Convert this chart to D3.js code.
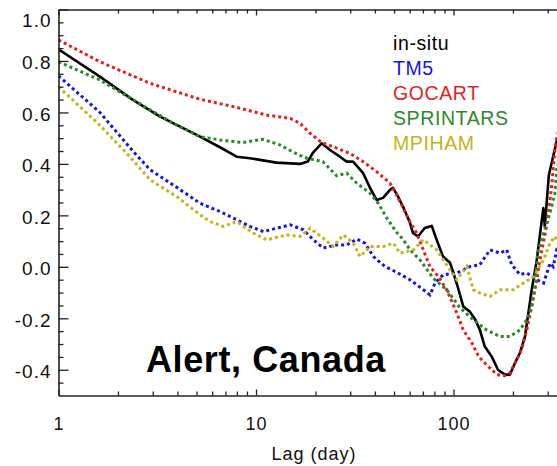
<!DOCTYPE html>
<html><head><meta charset="utf-8">
<script src="https://cdn.jsdelivr.net/npm/d3@7"></script>
<style>
body{margin:0;background:#fff}
svg{display:block}
text{font-family:"Liberation Sans",Arial,Helvetica,sans-serif}
</style>
</head><body>
<svg id="c" width="557" height="466"></svg>
<script>
// ---- data ----
const seriesNames = ["in-situ", "TM5", "GOCART", "SPRINTARS", "MPIHAM"];
const seriesColors = ["#000000", "#1414e6", "#e61e1e", "#2a8a2a", "#c2b520"];

const insituLag = [1,1.62,2.38,3.27,5.21,6.97,7.98,9.32,12.7,16.7,18.3,19.4,21.5,23.7,26.6,28.8,31.0,34.8,37.8,40.8,44.0,47.7,49.4,52.4,55.5,60.2,62.3,66.1,71.5,77.6,82.2,88.5,96,99.4,105,112,121,129,136,144,156,168,182,193,205,217,230,238,249,264,285,290,304,334,365];
const insituVal = [0.845,0.739,0.649,0.584,0.506,0.454,0.428,0.422,0.405,0.400,0.409,0.443,0.480,0.454,0.428,0.409,0.409,0.365,0.307,0.260,0.268,0.299,0.307,0.273,0.234,0.171,0.132,0.118,0.151,0.159,0.105,0.040,0.016,-0.019,-0.077,-0.154,-0.174,-0.206,-0.245,-0.310,-0.348,-0.400,-0.419,-0.419,-0.373,-0.334,-0.271,-0.193,-0.089,0.027,0.228,0.157,0.357,0.493,0.56];

const tm5Lag = [1,1.62,2.38,2.91,3.81,5.21,6.57,7.98,9.32,10.9,12.7,14.9,17.4,19.5,21.9,25.6,28.8,32.4,35.6,39.3,45.0,50.6,60.2,70.3,76.0,81,88.8,104,121,136,153,172,186,197,217,235,264,286,308,320,334,365];
const tm5Val = [0.742,0.600,0.450,0.377,0.318,0.247,0.215,0.183,0.157,0.137,0.150,0.163,0.144,0.105,0.073,0.085,0.085,0.108,0.092,0.040,0.001,-0.018,-0.050,-0.089,-0.109,-0.060,-0.031,-0.024,0.001,0.008,0.066,0.053,0.066,0.008,-0.030,-0.024,-0.050,-0.063,0.014,0.001,0.070,0.10];

const gocartLag = [1,1.62,2.91,5.21,7.65,11.3,14.9,16.7,18.8,21.5,24.5,29.9,34.8,40.8,47.7,51.5,55.5,60.2,65.1,70.3,76.0,83.8,92.4,104,112,124,134,147,166,182,193,209,221,235,249,264,274,296,314,326,334,365];
const gocartVal = [0.882,0.797,0.713,0.651,0.623,0.590,0.577,0.558,0.519,0.483,0.467,0.441,0.409,0.370,0.325,0.280,0.230,0.175,0.131,0.066,0.001,-0.038,-0.089,-0.180,-0.245,-0.296,-0.348,-0.381,-0.419,-0.423,-0.413,-0.361,-0.322,-0.245,-0.154,-0.050,0.027,0.157,0.312,0.454,0.506,0.60];

const sprintarsLag = [1,1.62,2.91,3.80,5.21,6.57,8.60,10.8,13.2,14.9,16.7,18.1,21.8,25.6,28.8,32.4,37.8,41.6,45.9,51.5,55.7,60.2,62.6,67.7,79.1,92.4,108,126,147,172,193,217,235,249,259,264,269,308,326,334,365];
const sprintarsVal = [0.797,0.726,0.610,0.558,0.506,0.493,0.483,0.496,0.474,0.452,0.433,0.422,0.409,0.354,0.364,0.325,0.286,0.247,0.190,0.134,0.105,0.066,0.053,0.027,-0.045,-0.089,-0.160,-0.206,-0.245,-0.271,-0.271,-0.245,-0.206,-0.154,-0.063,0.014,0.066,0.209,0.286,0.390,0.45];

const mpihamLag = [1,1.62,2.30,2.91,3.97,5.21,5.85,6.83,7.98,9.69,11.3,14.3,16.7,18.8,21.9,24.6,27.7,31.1,33.6,37.8,44.2,49.6,53.6,62.6,70.3,82.2,96,104,117,126,136,153,172,201,226,254,286,308,326,334,365];
const mpihamVal = [0.700,0.550,0.428,0.338,0.273,0.202,0.176,0.157,0.176,0.131,0.105,0.124,0.118,0.150,0.111,0.079,0.124,0.092,0.040,0.079,0.079,0.092,0.053,0.066,0.105,0.066,-0.012,-0.050,0.001,-0.089,-0.102,-0.115,-0.089,-0.089,-0.063,-0.038,0.027,0.092,0.118,0.100,0.12];

const yMajorTicks = [-0.4,-0.2,0.0,0.2,0.4,0.6,0.8,1.0];
const xMajorTicks = [1,10,100];
const xMinorTicks = [2,3,4,5,6,7,8,9,20,30,40,50,60,70,80,90,200,300];
const titleText = "Alert, Canada";
const xLabel = "Lag (day)";

// ---- layout ----
const svg = d3.select("#c");
const L = 58.5, T = 9.5, B = 395.5;
const x = d3.scaleLog().domain([1, 365]).range([L, L + 197.5 * Math.log10(365)]);
const y = d3.scaleLinear().domain([-0.5, 1.0]).range([B, T]);
const R = x(365);

const axisColor = "#222";

// clip
svg.append("defs").append("clipPath").attr("id","clip")
  .append("rect").attr("x", L).attr("y", T).attr("width", R - L).attr("height", B - T);

// lines
const series = [
  {lag: insituLag, val: insituVal},
  {lag: tm5Lag, val: tm5Val},
  {lag: gocartLag, val: gocartVal},
  {lag: sprintarsLag, val: sprintarsVal},
  {lag: mpihamLag, val: mpihamVal}
];
const line = d3.line().x(d => x(d[0])).y(d => y(d[1]));
const g = svg.append("g").attr("clip-path","url(#clip)");
series.forEach((s, i) => {
  const pts = s.lag.map((l, j) => [l, s.val[j]]);
  const p = g.append("path").datum(pts).attr("d", line)
    .attr("fill","none").attr("stroke", seriesColors[i]);
  if (i === 0) p.attr("stroke-width", 2.6).attr("stroke-linejoin","round");
  else p.attr("stroke-width", 3).attr("stroke-dasharray","3 3");
});

// axes
function styleAxis(sel){
  sel.selectAll(".domain").attr("stroke", axisColor).attr("stroke-width", 1.6);
  sel.selectAll(".tick line").attr("stroke", axisColor).attr("stroke-width", 1.3);
  sel.selectAll("text").attr("fill","#111");
}
const yMinor = d3.range(-0.45, 1.0001, 0.05).filter(v => Math.abs(Math.round(v*5) - v*5) > 1e-6);

const ga = svg.append("g").attr("transform",`translate(${L},0)`)
  .call(d3.axisLeft(y).tickValues(yMajorTicks).tickSize(-10).tickSizeOuter(0).tickPadding(7)
    .tickFormat(d => d.toFixed(1)));
ga.selectAll("text").attr("font-size", 19).attr("letter-spacing", "1px").attr("dy","0.42em")
  .attr("font-family", '"Liberation Sans",Arial,sans-serif');
ga.selectAll(".tick").filter(d => d === 1.0).select("text").attr("transform","translate(0,9)");
styleAxis(ga);
const gam = svg.append("g").attr("transform",`translate(${L},0)`)
  .call(d3.axisLeft(y).tickValues(yMinor).tickSize(-5).tickFormat(""));
gam.select(".domain").remove();
styleAxis(gam);

const gb = svg.append("g").attr("transform",`translate(0,${B})`)
  .call(d3.axisBottom(x).tickValues(xMajorTicks).tickSize(-6).tickSizeOuter(0).tickPadding(22)
    .tickFormat(d3.format("d")));
gb.selectAll("text").attr("font-size", 18).attr("letter-spacing","1px")
  .attr("font-family", '"Liberation Sans",Arial,sans-serif');
styleAxis(gb);
const gbm = svg.append("g").attr("transform",`translate(0,${B})`)
  .call(d3.axisBottom(x).tickValues(xMinorTicks).tickSize(-4).tickFormat(""));
gbm.select(".domain").remove();
styleAxis(gbm);

const gt = svg.append("g").attr("transform",`translate(0,${T})`)
  .call(d3.axisTop(x).tickValues(xMajorTicks).tickSize(-6).tickSizeOuter(0).tickFormat(""));
styleAxis(gt);
const gtm = svg.append("g").attr("transform",`translate(0,${T})`)
  .call(d3.axisTop(x).tickValues(xMinorTicks).tickSize(-4).tickFormat(""));
gtm.select(".domain").remove();
styleAxis(gtm);

// x label
svg.append("text").attr("x", 314).attr("y", 460).attr("text-anchor","middle")
  .attr("font-size", 18).attr("letter-spacing","1px").attr("fill","#111").text(xLabel);

// title
svg.append("text").attr("x", 146).attr("y", 372).attr("font-size", 36).attr("font-weight","bold")
  .attr("letter-spacing","0.6px").attr("fill","#000").text(titleText);

// legend
const legY0 = 49.5, legDy = 25.2;
seriesNames.forEach((n, i) => {
  svg.append("text").attr("x", 393).attr("y", legY0 + i*legDy)
    .attr("font-size", 19.5).attr("letter-spacing","0.6px").attr("fill", seriesColors[i]).text(n);
});
</script>
</body></html>
